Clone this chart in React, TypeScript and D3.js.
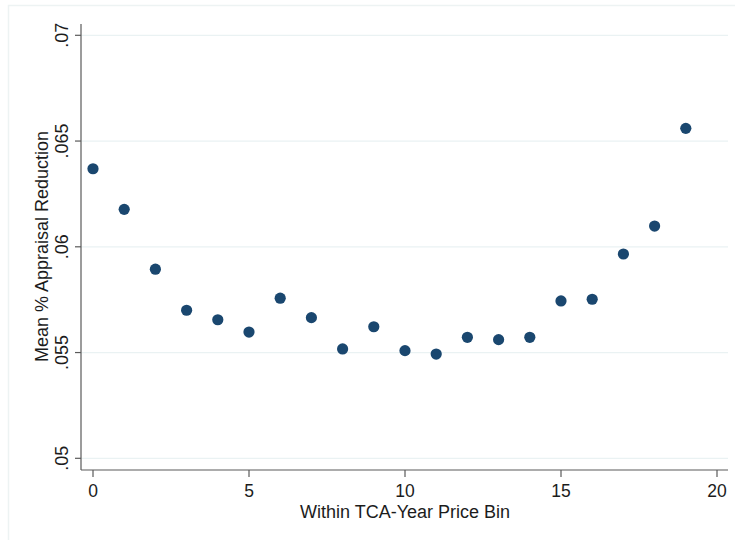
import React from "react";
import * as d3 from "d3";

// Mean appraisal reduction by within TCA-year price bin
const bins = [0, 1, 2, 3, 4, 5, 6, 7, 8, 9, 10, 11, 12, 13, 14, 15, 16, 17, 18, 19];
const meanReduction = [
  0.06369, 0.06177, 0.05894, 0.057, 0.05655, 0.05597, 0.05757, 0.05665, 0.05517, 0.05622,
  0.05509, 0.05493, 0.05572, 0.05561, 0.05572, 0.05744, 0.05752, 0.05966, 0.06098, 0.0656,
];
const xTicks = [0, 5, 10, 15, 20];
const yTicks = [0.05, 0.055, 0.06, 0.065, 0.07];
const yTickLabels = [".05", ".055", ".06", ".065", ".07"];

const W = 735;
const H = 540;
const plot = { left: 81, right: 728, top: 24, bottom: 470 };

export default function App() {
  const x = d3.scaleLinear().domain([0, 20]).range([93, 717]);
  const y = d3.scaleLinear().domain([0.05, 0.07]).range([458.3, 35.3]);
  const font = "'Liberation Sans', Arial, sans-serif";
  const axisColor = "#5a5a5a";
  const textColor = "#1c1c1c";

  return (
    <svg
      width={W}
      height={H}
      style={{ position: "absolute", left: 0, top: 0, background: "#fff" }}
      fontFamily={font}
    >
      {/* outer graph region border */}
      <rect x={8.5} y={5.5} width={W} height={H} fill="none" stroke="#edf3f3" strokeWidth={1.5} />

      {/* gridlines */}
      {yTicks.map((t) => (
        <line
          key={"g" + t}
          x1={plot.left}
          x2={plot.right}
          y1={y(t)}
          y2={y(t)}
          stroke="#eaf2f3"
          strokeWidth={1.2}
        />
      ))}

      {/* y axis */}
      <line x1={plot.left} x2={plot.left} y1={plot.top} y2={plot.bottom} stroke={axisColor} strokeWidth={1.2} />
      {yTicks.map((t, i) => (
        <g key={"y" + t}>
          <line x1={plot.left - 6} x2={plot.left} y1={y(t)} y2={y(t)} stroke={axisColor} strokeWidth={1.2} />
          <text
            transform={`translate(68,${y(t)}) rotate(-90)`}
            textAnchor="middle"
            fontSize={18}
            fill={textColor}
          >
            {yTickLabels[i]}
          </text>
        </g>
      ))}
      <text
        transform={`translate(48,246.5) rotate(-90)`}
        textAnchor="middle"
        fontSize={18}
        fill={textColor}
      >
        Mean % Appraisal Reduction
      </text>

      {/* x axis */}
      <line x1={plot.left} x2={plot.right} y1={plot.bottom} y2={plot.bottom} stroke={axisColor} strokeWidth={1.2} />
      {xTicks.map((t) => (
        <g key={"x" + t}>
          <line x1={x(t)} x2={x(t)} y1={plot.bottom} y2={plot.bottom + 7} stroke={axisColor} strokeWidth={1.2} />
          <text x={x(t)} y={497} textAnchor="middle" fontSize={17.5} fill={textColor}>
            {t}
          </text>
        </g>
      ))}
      <text x={405} y={518} textAnchor="middle" fontSize={18} fill={textColor}>
        Within TCA-Year Price Bin
      </text>

      {/* points */}
      {bins.map((b, i) => (
        <circle key={b} cx={x(b)} cy={y(meanReduction[i])} r={5.6} fill="#1a476f" />
      ))}
    </svg>
  );
}
